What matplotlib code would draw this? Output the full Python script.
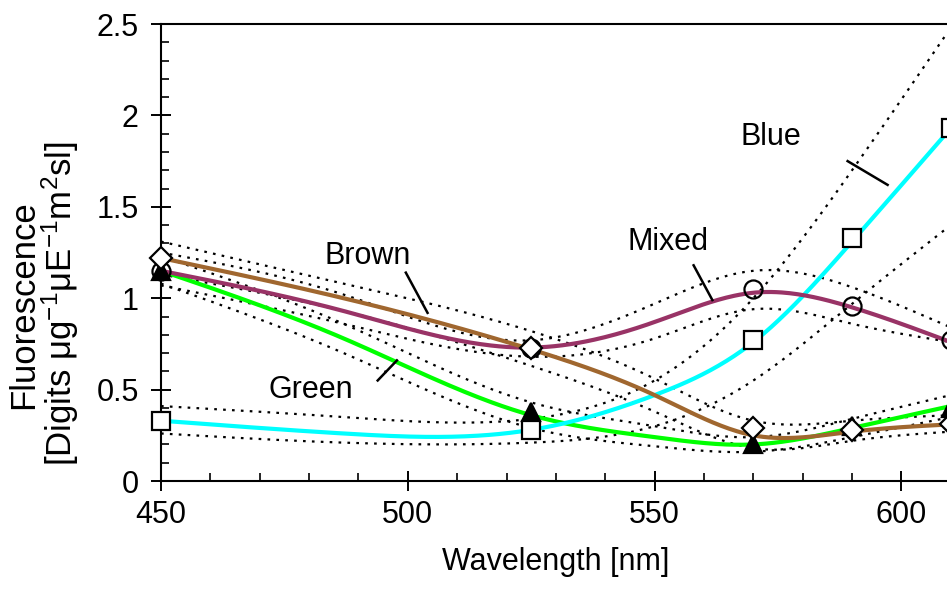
import numpy as np
import matplotlib
matplotlib.use("Agg")
import matplotlib.pyplot as plt
from matplotlib.ticker import MultipleLocator

plt.rcParams['font.family'] = ['Liberation Sans', 'DejaVu Sans']
plt.rcParams['mathtext.fontset'] = 'custom'
plt.rcParams['mathtext.rm'] = 'Liberation Sans'
plt.rcParams['mathtext.it'] = 'Liberation Sans:italic'

# measured wavelengths and fluorescence per algal class
wl = [450, 525, 570, 590, 610]
blue_pts = [0.33, 0.28, 0.77, 1.33, 1.93]
mixed_pts = [1.15, 0.73, 1.05, 0.96, 0.77]
brown_pts = [1.22, 0.73, 0.29, 0.28, 0.31]
green_pts = [1.15, 0.38, 0.20, 0.30, 0.40]

# fitted curves and their confidence bands, read at knot wavelengths
knots = [450, 487, 525, 550, 570, 590, 610]
blue_fit = [0.33, 0.26, 0.28, 0.47, 0.76, 1.31, 1.93]
blue_hi = [0.41, 0.35, 0.34, 0.55, 1.00, 1.70, 2.48]
blue_lo = [0.26, 0.21, 0.21, 0.30, 0.55, 0.97, 1.40]

mixed_fit = [1.15, 0.93, 0.73, 0.87, 1.03, 0.95, 0.76]
mixed_hi = [1.25, 1.02, 0.77, 0.97, 1.15, 1.06, 0.84]
mixed_lo = [1.07, 0.86, 0.68, 0.78, 0.94, 0.86, 0.76]

brown_fit = [1.22, 1.00, 0.72, 0.47, 0.25, 0.27, 0.31]
brown_hi = [1.31, 1.08, 0.82, 0.56, 0.33, 0.33, 0.36]
brown_lo = [1.13, 0.93, 0.63, 0.38, 0.18, 0.22, 0.27]

green_fit = [1.15, 0.78, 0.36, 0.24, 0.20, 0.29, 0.41]
green_hi = [1.23, 0.86, 0.43, 0.30, 0.24, 0.34, 0.47]
green_lo = [1.08, 0.70, 0.29, 0.19, 0.16, 0.24, 0.35]


def smooth(xk, yk, n=300):
    # natural cubic spline through the knots
    x = np.asarray(xk, float)
    y = np.asarray(yk, float)
    m = len(x)
    h = np.diff(x)
    A = np.zeros((m, m))
    r = np.zeros(m)
    A[0, 0] = A[-1, -1] = 1
    for i in range(1, m - 1):
        A[i, i - 1] = h[i - 1]
        A[i, i] = 2 * (h[i - 1] + h[i])
        A[i, i + 1] = h[i]
        r[i] = 6 * ((y[i + 1] - y[i]) / h[i] - (y[i] - y[i - 1]) / h[i - 1])
    M = np.linalg.solve(A, r)
    xs = np.linspace(x[0], x[-1], n)
    k = np.clip(np.searchsorted(x, xs) - 1, 0, m - 2)
    t0 = x[k + 1] - xs
    t1 = xs - x[k]
    hk = h[k]
    ys = (M[k] * t0**3 + M[k + 1] * t1**3) / (6 * hk) \
        + (y[k] / hk - M[k] * hk / 6) * t0 + (y[k + 1] / hk - M[k + 1] * hk / 6) * t1
    return xs, ys


fig = plt.figure(figsize=(9.47, 5.9), dpi=100)
ax = fig.add_axes([0.170, 0.1847, 0.834, 0.7746])

# ordered so the diamonds end up on top of the triangles
series = [
    (green_fit, green_hi, green_lo, green_pts, '#00FF00', '^', 'black', 'black'),
    (blue_fit, blue_hi, blue_lo, blue_pts, '#00FFFF', 's', 'white', 'black'),
    (mixed_fit, mixed_hi, mixed_lo, mixed_pts, '#993366', 'o', 'none', 'black'),
    (brown_fit, brown_hi, brown_lo, brown_pts, '#A0672F', 'D', 'white', 'black'),
]

for fit, hi, lo, pts, col, mk, fc, ec in series:
    for band in (hi, lo):
        xs, ys = smooth(knots, band)
        ax.plot(xs, ys, color='black', lw=1.6, ls=(0, (1.2, 2.8)), zorder=2)
    xs, ys = smooth(knots, fit)
    ax.plot(xs, ys, color=col, lw=3.0, zorder=3, solid_capstyle='butt')

for fit, hi, lo, pts, col, mk, fc, ec in series:
    ms = 11 if mk == 'D' else 13
    ax.plot(wl, pts, ls='none', marker=mk, ms=ms, mfc=fc, mec=ec, mew=1.6,
            zorder=5, clip_on=False)

# series labels with leader lines
labels = [
    ("Blue", 573.5, 1.88, (589.1, 597.2), (1.75, 1.62)),
    ("Mixed", 552.8, 1.31, (557.9, 561.7), (1.18, 0.99)),
    ("Brown", 491.9, 1.23, (499.6, 504.0), (1.14, 0.92)),
    ("Green", 480.4, 0.50, (493.9, 497.8), (0.55, 0.66)),
]
for txt, tx, ty, lx, ly in labels:
    ax.text(tx, ty, txt, fontsize=22, ha='center', va='center')
    ax.plot(lx, ly, color='black', lw=1.8, zorder=4)

ax.set_xlim(450, 610)
ax.set_ylim(0, 2.5)
ax.xaxis.set_major_locator(MultipleLocator(50))
ax.xaxis.set_minor_locator(MultipleLocator(10))
ax.yaxis.set_minor_locator(MultipleLocator(0.1))
ax.set_yticks([0, 0.5, 1, 1.5, 2, 2.5])
ax.set_yticklabels(['0', '0.5', '1', '1.5', '2', '2.5'])
ax.tick_params(which='major', direction='inout', length=14, width=1.4,
               labelsize=22, pad=9)
ax.tick_params(which='minor', direction='in', length=6, width=1.2)
ax.tick_params(axis='x', pad=7)
for side in ('left', 'bottom', 'top'):
    ax.spines[side].set_linewidth(1.5)
ax.spines['right'].set_visible(False)

ax.set_xlabel("Wavelength [nm]", fontsize=22, labelpad=12)
fig.text(0.025, 0.483, "Fluorescence", rotation=90, fontsize=25,
         ha='center', va='center')
fig.text(0.064, 0.486, r"[Digits μg$^{-1}$μE$^{-1}$m$^{2}$sl]", rotation=90,
         fontsize=25, ha='center', va='center')

fig.savefig("out.png", dpi=100)
